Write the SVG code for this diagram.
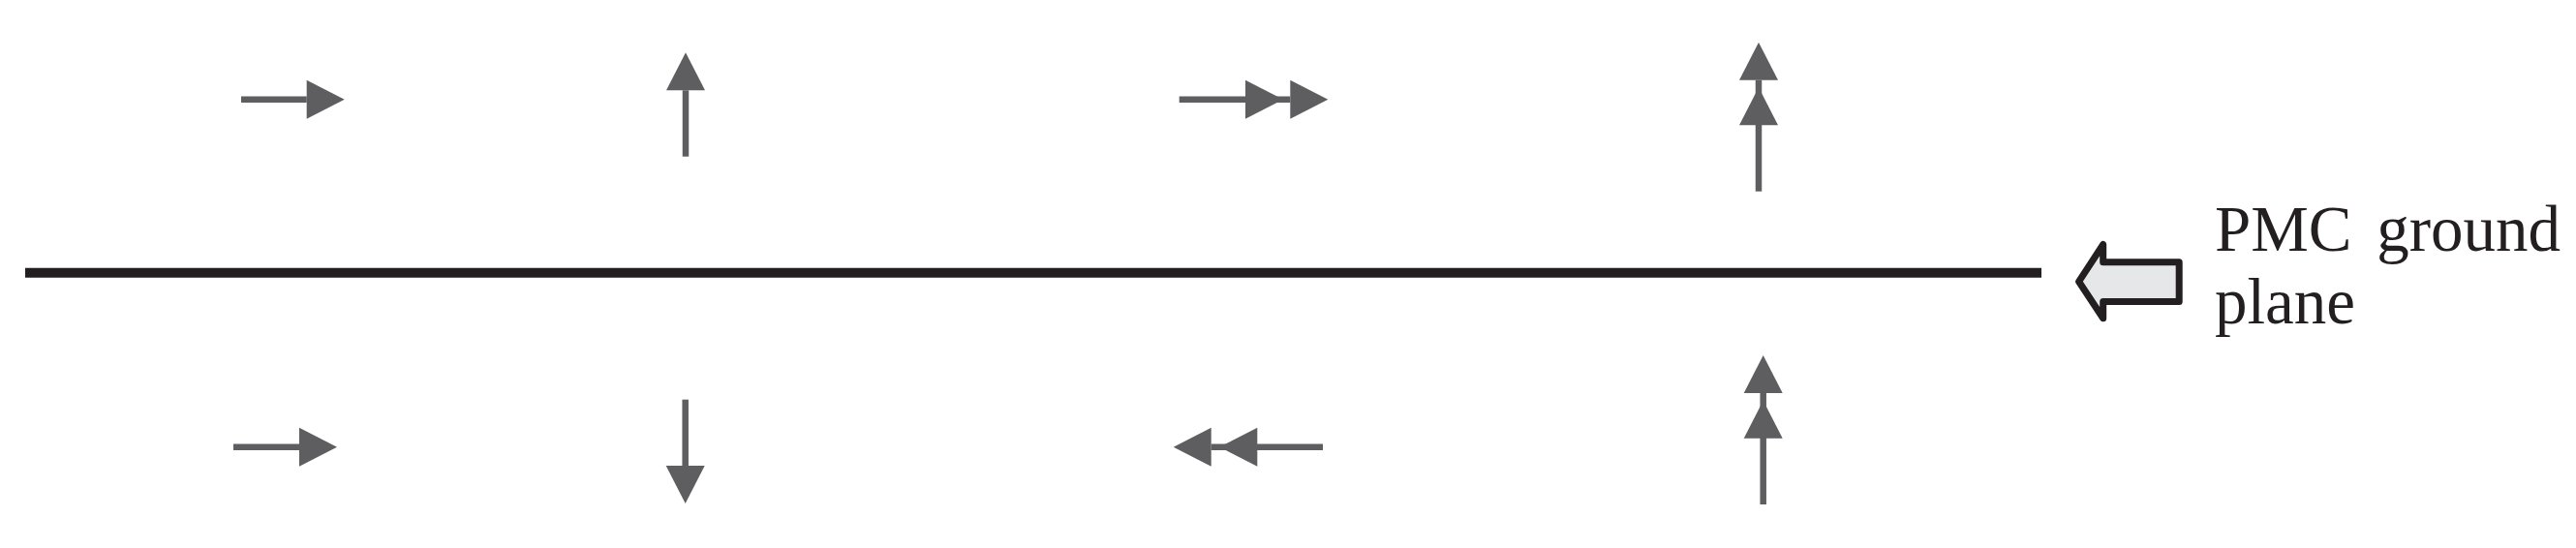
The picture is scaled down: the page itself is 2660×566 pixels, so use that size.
<svg xmlns="http://www.w3.org/2000/svg" width="2660" height="566" viewBox="0 0 2660 566">
  <style>
    .vec { fill: none; stroke: #5e5e60; stroke-width: 6.5; marker-end: url(#head); }
    .dbl { marker-mid: url(#head); }
    .ground { stroke: #231f20; stroke-width: 10; }
    .block { fill: #e6e7e8; stroke: #231f20; stroke-width: 7; stroke-linejoin: round; }
    .label { font-family: "Liberation Serif", "Times New Roman", serif; font-size: 67px; fill: #231f20; word-spacing: 9px; }
  </style>
  <defs>
    <marker id="head" markerUnits="userSpaceOnUse" markerWidth="40" markerHeight="40" refX="0" refY="0" orient="auto" overflow="visible">
      <path d="M0,-20 L39,0 L0,20 Z" fill="#5e5e60"/>
    </marker>
  </defs>
  <rect width="2660" height="566" fill="#ffffff"/>
  <g id="ground-plane">
    <line class="ground" x1="26" y1="281.7" x2="2108" y2="281.7"/>
  </g>
  <g id="connectors">
    <polyline class="vec" points="249,102.7 316.7,102.7"/>
    <polyline class="vec" points="708,161.7 708,93.3"/>
    <polyline class="vec dbl" points="1217.7,102.7 1286,102.7 1332.3,102.7"/>
    <polyline class="vec dbl" points="1816,197.7 1816,129.3 1816,82.7"/>
    <polyline class="vec" points="241,461.7 309,461.7"/>
    <polyline class="vec" points="707.7,412.7 707.7,481"/>
    <polyline class="vec dbl" points="1366,461.7 1298.3,461.7 1250.7,461.7"/>
    <polyline class="vec dbl" points="1820.7,521 1820.7,452.7 1820.7,406"/>
  </g>
  <g id="pointer">
    <path class="block" d="M2146.6,290.8 L2171.7,252.5 L2171.7,270.8 L2250.2,270.8 L2250.2,311.5 L2171.7,311.5 L2171.7,328.7 Z"/>
  </g>
  <g id="label">
    <text class="label" x="2287" y="259">PMC ground</text>
    <text class="label" x="2287" y="334">plane</text>
  </g>
</svg>
